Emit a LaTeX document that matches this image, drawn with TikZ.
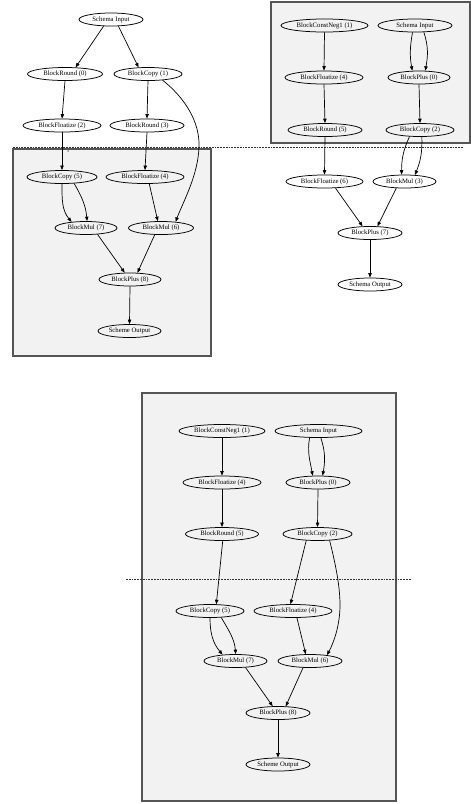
\documentclass[tikz,border=0pt]{standalone}
\usepackage{fontspec}
\setmainfont{Liberation Serif}
\usetikzlibrary{shapes.geometric,arrows.meta}
\definecolor{panel}{RGB}{242,242,242}
\definecolor{panelrule}{RGB}{85,85,85}

\tikzset{
  blk/.style={ellipse, draw, line width=0.75pt, inner sep=0pt,
              minimum height=13pt, minimum width=#1,
              font=\fontsize{6.7}{8}\selectfont},
  arr/.style={line width=0.7pt, -{Triangle[length=4.5pt,width=3.4pt]}},
  panelbox/.style={fill=panel, draw=panelrule, line width=1.2pt},
  cutline/.style={line width=0.8pt, dash pattern=on 1.8pt off 1pt, draw=black!80},
}

\begin{document}
\begin{tikzpicture}[x=1pt,y=-1pt]
\useasboundingbox (0,0) rectangle (471,804);

% shaded groups
\draw[panelbox] (13,149) rectangle (211,356);
\draw[panelbox] (271,2) rectangle (470,143);
\draw[panelbox] (142,393) rectangle (396,801);

% cut lines
\draw[cutline] (13,147) -- (463,147);
\draw[cutline] (126,579) -- (411,579);
\node[font=\fontsize{5}{5}\selectfont, text=black!70] (cutlabel) at (68,150.5) {5};

% ---------- first scheme ----------
\node[blk=64pt] (si1) at (111,19.5) {Schema Input};
\node[blk=75pt] (r0)  at (65,74)    {BlockRound (0)};
\node[blk=68pt] (c1)  at (148,74)   {BlockCopy (1)};
\node[blk=78pt] (f2)  at (62,125.5) {BlockFloatize (2)};
\node[blk=74pt] (r3)  at (147,125.5){BlockRound (3)};
\node[blk=70pt] (c5)  at (62,177)   {BlockCopy (5)};
\node[blk=78pt] (f4)  at (145,177)  {BlockFloatize (4)};
\node[blk=62pt] (m7)  at (86,228)   {BlockMul (7)};
\node[blk=65pt] (m6)  at (161,228)  {BlockMul (6)};
\node[blk=62pt] (p8)  at (130,279.5){BlockPlus (8)};
\node[blk=63pt] (so1) at (129.5,331){Scheme Output};

\draw[arr] (si1.-138) -- (r0.32);
\draw[arr] (si1.-42) -- (c1.145);
\draw[arr] (r0.south) -- (f2.north);
\draw[arr] (c1.south) -- (r3.north);
\draw[arr] (c1.-23) .. controls (185,98) and (200,122) .. (199,147)
                    .. controls (198,175) and (184,200) .. (m6.23);
\draw[arr] (f2.south) -- (c5.north);
\draw[arr] (r3.south) -- (f4.north);
\draw[arr] (c5.-90) to[out=-90,in=130] (m7.157);
\draw[arr] (c5.-28) to[out=-60,in=95] (m7.81);
\draw[arr] (f4.-58) -- (m6.115);
\draw[arr] (m7.-29) -- (p8.128);
\draw[arr] (m6.-133) -- (p8.42);
\draw[arr] (p8.south) -- (so1.north);

% ---------- second scheme ----------
\node[blk=87pt] (cn1) at (324.5,25.5) {BlockConstNeg1 (1)};
\node[blk=74pt] (si2) at (415,25.5)   {Schema Input};
\node[blk=78pt] (f4b) at (324,77.5)   {BlockFloatize (4)};
\node[blk=62pt] (p0)  at (419,77.5)   {BlockPlus (0)};
\node[blk=74pt] (r5)  at (325,130)    {BlockRound (5)};
\node[blk=68pt] (c2)  at (420,130)    {BlockCopy (2)};
\node[blk=77pt] (f6)  at (324.5,181.5){BlockFloatize (6)};
\node[blk=63pt] (m3)  at (404.5,181.5){BlockMul (3)};
\node[blk=64pt] (p7)  at (370,233)    {BlockPlus (7)};
\node[blk=64pt] (so2) at (370,284.5)  {Schema Output};

\draw[arr] (cn1.south) -- (f4b.north);
\draw[arr] (f4b.south) -- (r5.north);
\draw[arr] (r5.south) -- (f6.north);
\draw[arr] (si2.-110) to[out=-100,in=100] (p0.135);
\draw[arr] (si2.-37) to[out=-72,in=80] (p0.47);
\draw[arr] (p0.south) -- (c2.north);
\draw[arr] (c2.-148) to[out=-115,in=90] (m3.113);
\draw[arr] (c2.-75) to[out=-88,in=68] (m3.32);
\draw[arr] (f6.-31) -- (p7.138);
\draw[arr] (m3.-141) -- (p7.42);
\draw[arr] (p7.south) -- (so2.north);

% ---------- third scheme ----------
\node[blk=86pt] (cn1b) at (222,431)   {BlockConstNeg1 (1)};
\node[blk=87pt] (si3)  at (318.5,431) {Schema Input};
\node[blk=78pt] (f4c)  at (222,482.5) {BlockFloatize (4)};
\node[blk=64pt] (p0b)  at (318,482.5) {BlockPlus (0)};
\node[blk=73pt] (r5b)  at (222,534)   {BlockRound (5)};
\node[blk=69pt] (c2b)  at (317.5,534) {BlockCopy (2)};
\node[blk=68pt] (c5b)  at (210,611)   {BlockCopy (5)};
\node[blk=78pt] (f4d)  at (293,611)   {BlockFloatize (4)};
\node[blk=63pt] (m7b)  at (235.5,661) {BlockMul (7)};
\node[blk=64pt] (m6b)  at (310,661)   {BlockMul (6)};
\node[blk=64pt] (p8b)  at (278,713)   {BlockPlus (8)};
\node[blk=64pt] (so3)  at (278,764.5) {Scheme Output};

\draw[arr] (cn1b.south) -- (f4c.north);
\draw[arr] (f4c.south) -- (r5b.north);
\draw[arr] (r5b.-84) -- (c5b.47);
\draw[arr] (si3.-143) to[out=-100,in=100] (p0b.128);
\draw[arr] (si3.-71) to[out=-72,in=80] (p0b.56);
\draw[arr] (p0b.south) -- (c2b.north);
\draw[arr] (c2b.-150) -- (f4d.110);
\draw[arr] (c2b.-28) .. controls (335,562) and (340,585) .. (340,605)
                     .. controls (340,625) and (334,642) .. (m6b.19);
\draw[arr] (c5b.-90) to[out=-90,in=130] (m7b.154);
\draw[arr] (c5b.-30) to[out=-60,in=95] (m7b.88);
\draw[arr] (f4d.-60) -- (m6b.122);
\draw[arr] (m7b.-33) -- (p8b.128);
\draw[arr] (m6b.-136) -- (p8b.41);
\draw[arr] (p8b.south) -- (so3.north);
\end{tikzpicture}
\end{document}
